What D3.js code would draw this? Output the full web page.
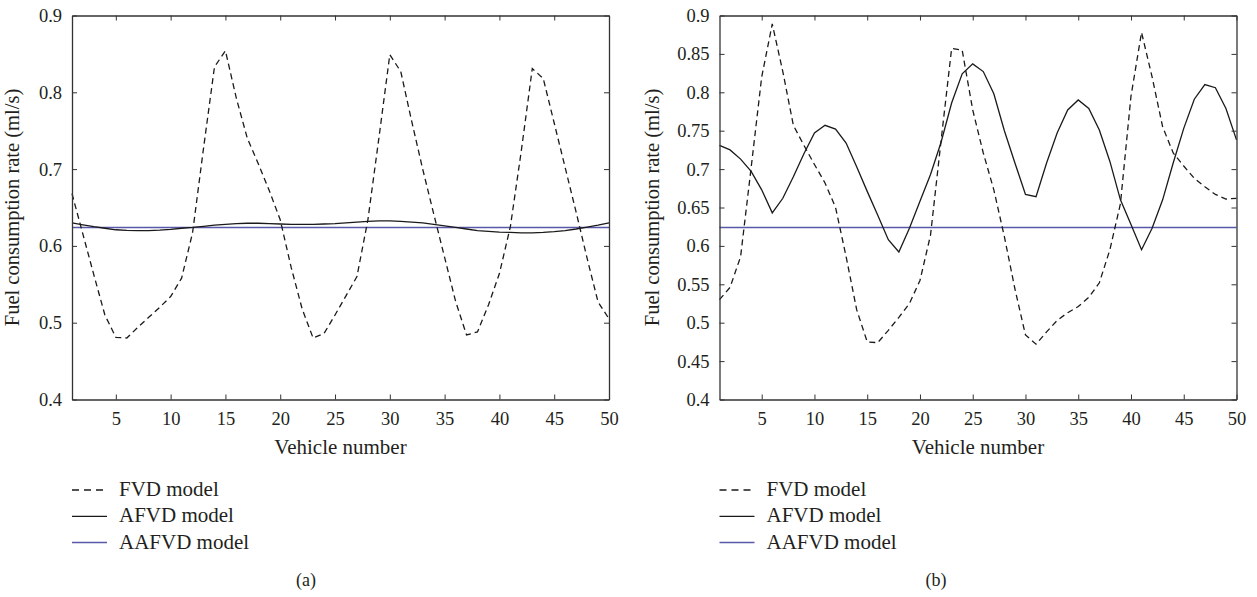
<!DOCTYPE html>
<html>
<head>
<meta charset="utf-8">
<script src="https://cdn.jsdelivr.net/npm/d3@7"></script>
<style>
  html, body { margin: 0; padding: 0; background: #fff; }
  svg { display: block; }
  text { font-family: "Liberation Serif", "DejaVu Serif", serif; fill: #231f20; }
</style>
</head>
<body>
<svg id="chart" width="1257" height="597"></svg>
<script>
// ---------- data ----------
const vehicles = d3.range(1, 51);

const fvdA = [0.668,0.615,0.562,0.510,0.481,0.480,0.494,0.507,0.520,0.534,
              0.558,0.617,0.727,0.833,0.854,0.792,0.740,0.707,0.672,0.634,
              0.572,0.518,0.480,0.486,0.510,0.535,0.560,0.634,0.740,0.849,
              0.827,0.762,0.700,0.642,0.585,0.528,0.484,0.488,0.523,0.564,
              0.625,0.724,0.831,0.818,0.760,0.702,0.644,0.584,0.527,0.505];

const afvdA = [0.630,0.6275,0.625,0.623,0.621,0.6203,0.620,0.620,0.6205,0.6215,
               0.623,0.624,0.6255,0.627,0.628,0.629,0.6295,0.6295,0.629,0.6285,
               0.628,0.628,0.628,0.6285,0.629,0.630,0.631,0.632,0.6325,0.6325,
               0.632,0.631,0.630,0.628,0.626,0.624,0.622,0.620,0.619,0.618,
               0.6175,0.617,0.617,0.6175,0.6185,0.620,0.622,0.6245,0.627,0.630];

const aafvdA = vehicles.map(() => 0.624);

const fvdB = [0.530,0.546,0.586,0.702,0.820,0.889,0.827,0.757,0.731,0.706,
              0.682,0.650,0.586,0.517,0.475,0.474,0.490,0.507,0.525,0.555,
              0.614,0.737,0.857,0.855,0.777,0.721,0.673,0.612,0.544,0.484,
              0.472,0.488,0.503,0.513,0.521,0.533,0.552,0.595,0.655,0.795,
              0.878,0.820,0.755,0.721,0.704,0.688,0.677,0.667,0.661,0.662];

const afvdB = [0.731,0.725,0.713,0.697,0.673,0.643,0.662,0.690,0.720,0.747,
               0.757,0.752,0.734,0.703,0.671,0.640,0.608,0.592,0.623,0.658,
               0.693,0.735,0.786,0.824,0.837,0.827,0.798,0.750,0.708,0.667,
               0.664,0.708,0.747,0.777,0.790,0.779,0.751,0.710,0.660,0.628,
               0.595,0.623,0.660,0.708,0.753,0.791,0.810,0.806,0.779,0.738];

const aafvdB = vehicles.map(() => 0.624);

const xTicks = [5,10,15,20,25,30,35,40,45,50];
const yTicksA = [0.4,0.5,0.6,0.7,0.8,0.9];
const yTicksB = [0.4,0.45,0.5,0.55,0.6,0.65,0.7,0.75,0.8,0.85,0.9];
const seriesNames = ["FVD model","AFVD model","AAFVD model"];
const panelLabels = ["(a)","(b)"];

// ---------- drawing ----------
const svg = d3.select("#chart");
const BLUE = "#5a58a8";
const styles = [
  {stroke:"#1a1a1a", dash:"6,4", width:1.3},
  {stroke:"#1a1a1a", dash:null, width:1.3},
  {stroke:BLUE, dash:null, width:1.5}
];

const panels = [
  {x0:72, x1:609, series:[fvdA, afvdA, aafvdA], yTicks:yTicksA, label:panelLabels[0],
   fmt:d3.format(".1f"), titleX:19, labelX:306},
  {x0:719.5, x1:1236.5, series:[fvdB, afvdB, aafvdB], yTicks:yTicksB, label:panelLabels[1],
   fmt:d => String(+d.toFixed(2)), titleX:659, labelX:936}
];
const yTop = 15.5, yBot = 399.5;

panels.forEach(p => {
  const x = d3.scaleLinear().domain([1,50]).range([p.x0, p.x1]);
  const y = d3.scaleLinear().domain([0.4,0.9]).range([yBot, yTop]);
  const g = svg.append("g");

  const line = d3.line().x((d,i) => x(vehicles[i])).y(d => y(d));
  [2,1,0].forEach(k => {
    g.append("path").datum(p.series[k])
      .attr("d", line)
      .attr("fill","none")
      .attr("stroke", styles[k].stroke)
      .attr("stroke-width", styles[k].width)
      .attr("stroke-dasharray", styles[k].dash);
  });

  const axB = g.append("g").attr("transform",`translate(0,${yBot})`)
    .call(d3.axisBottom(x).tickValues(xTicks).tickSizeInner(-5).tickSizeOuter(0).tickPadding(12));
  const axT = g.append("g").attr("transform",`translate(0,${yTop})`)
    .call(d3.axisTop(x).tickValues(xTicks).tickSizeInner(-5).tickSizeOuter(0).tickFormat(""));
  const axL = g.append("g").attr("transform",`translate(${p.x0},0)`)
    .call(d3.axisLeft(y).tickValues(p.yTicks).tickSizeInner(-5).tickSizeOuter(0).tickPadding(10).tickFormat(p.fmt));
  const axR = g.append("g").attr("transform",`translate(${p.x1},0)`)
    .call(d3.axisRight(y).tickValues(p.yTicks).tickSizeInner(-5).tickSizeOuter(0).tickFormat(""));
  [axB, axT, axL, axR].forEach(a => {
    a.select(".domain").attr("stroke","#333").attr("stroke-width",1.3);
    a.selectAll(".tick line").attr("stroke","#333").attr("stroke-width",1);
    a.selectAll("text").attr("font-size",18.5).attr("font-family","Liberation Serif").attr("fill","#231f20");
  });

  g.append("text")
    .attr("x", (p.x0+p.x1)/2).attr("y", 454)
    .attr("text-anchor","middle").attr("font-size",21)
    .text("Vehicle number");
  g.append("text")
    .attr("transform",`translate(${p.titleX},${(yTop+yBot)/2}) rotate(-90)`)
    .attr("text-anchor","middle").attr("font-size",20.5)
    .text("Fuel consumption rate (ml/s)");

  const lg = g.append("g").attr("transform",`translate(${p.x0},490)`);
  seriesNames.forEach((name,k) => {
    const yy = k*26.3;
    lg.append("line").attr("x1",0).attr("x2",35).attr("y1",yy).attr("y2",yy)
      .attr("stroke", styles[k].stroke).attr("stroke-width", styles[k].width)
      .attr("stroke-dasharray", k===0 ? "7,5" : null);
    lg.append("text").attr("x",47).attr("y",yy+6).attr("font-size",21).text(name);
  });

  g.append("text").attr("x",p.labelX).attr("y",586).attr("text-anchor","middle")
    .attr("font-size",18).text(p.label);
});
</script>
</body>
</html>
